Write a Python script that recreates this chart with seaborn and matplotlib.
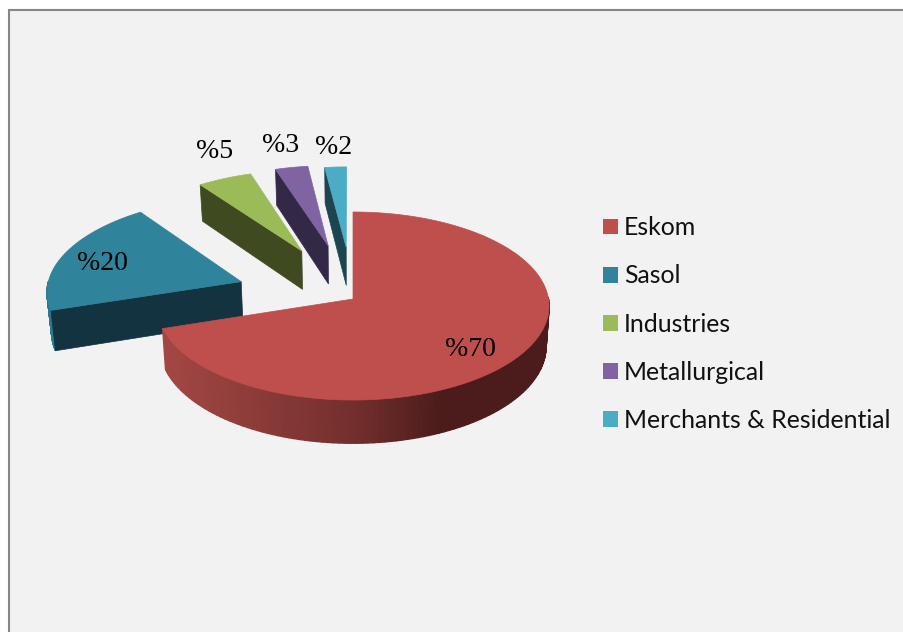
import numpy as np
import matplotlib
matplotlib.use("Agg")
import matplotlib.pyplot as plt
from matplotlib.patches import Patch, Rectangle
import seaborn as sns

# data
sources = ["Eskom", "Sasol", "Industries", "Metallurgical", "Merchants & Residential"]
shares = [70, 20, 5, 3, 2]
pull_out = [0, 0.61, 0.60, 0.61, 0.58]

# colours
top_colors = ["#bf4f4c", "#2f839b", "#9bbb59", "#8064a2", "#4bacc6"]
cut_colors = ["#4e1f1e", "#12333f", "#404a21", "#332846", "#1c4550"]
wall_colors = ["#4e1f1e", "#2b7890", "#404a21", "#332846", "#1c4550"]

# label spots in pixels
label_spots = [(470, 350), (102, 263), (215, 152), (281, 146), (334, 147)]

# projection of the pie plane to the picture
CX, CY = 353, 299
RX, RY = 195.5, 93.5
TILT = 0.0745
DEPTH = 40
BOTTOM_SHRINK = 0.985

sns.set_theme(style="white")
plt.rcParams["font.family"] = ["Lato", "DejaVu Sans"]


def project(x, y):
    s = 1 / (1 + TILT * np.asarray(y))
    return CX + RX * np.asarray(x) * s, CY - RY * np.asarray(y) * s


def project_bottom(x, y):
    s = 1 / (1 + TILT * np.asarray(y))
    px, py = project(x, y)
    return CX + (px - CX) * BOTTOM_SHRINK, py + DEPTH * s


def wall_shade(px):
    # Eskom side goes from lit on the left to dark near the right
    left = np.array([0xa3, 0x47, 0x44]) / 255
    mid = np.array([0x72, 0x2f, 0x2d]) / 255
    right = np.array([0x4b, 0x1c, 0x1b]) / 255
    return [np.interp(px, [165, 353, 440], [left[i], mid[i], right[i]]) for i in range(3)]


fig = plt.figure(figsize=(9.04, 6.32), dpi=100, facecolor="white")
ax = fig.add_axes([0, 0, 1, 1])

wedges, _ = ax.pie(shares, explode=pull_out, startangle=90, counterclock=False, colors=top_colors)
ax.set_aspect("auto")
ax.set_xlim(0, 904)
ax.set_ylim(632, 0)
ax.axis("off")

ax.add_patch(Rectangle((9, 10), 920, 650, facecolor="#f2f2f2", edgecolor="#868686", lw=1.5, zorder=0))

# smallest slice first, Eskom has to end up in front
for order, i in enumerate(range(len(wedges) - 1, -1, -1)):
    w = wedges[i]
    cx, cy = w.center
    w.remove()
    z = 2 + order
    theta = np.radians(np.linspace(w.theta1, w.theta2, 160))
    xs = cx + w.r * np.cos(theta)
    ys = cy + w.r * np.sin(theta)

    # outer wall, only the part facing the viewer
    tx, ty = project(xs, ys)
    bx, by = project_bottom(xs, ys)
    for k in range(len(theta) - 1):
        if np.sin(theta[k]) > 0 and np.sin(theta[k + 1]) > 0:
            continue
        shade = wall_shade(tx[k]) if i == 0 else wall_colors[i]
        ax.fill([tx[k], tx[k + 1], bx[k + 1], bx[k]], [ty[k], ty[k + 1], by[k + 1], by[k]],
                facecolor=shade, edgecolor=shade, lw=1.0, zorder=z)

    # cut face along the leading edge of the pulled out slices
    if pull_out[i] > 0:
        ex, ey = cx + w.r * np.cos(np.radians(w.theta2)), cy + w.r * np.sin(np.radians(w.theta2))
        t1 = project(cx, cy)
        t2 = project(ex, ey)
        b2 = project_bottom(ex, ey)
        b1 = project_bottom(cx, cy)
        ax.fill([t1[0], t2[0], b2[0], b1[0]], [t1[1], t2[1], b2[1], b1[1]],
                facecolor=cut_colors[i], edgecolor=cut_colors[i], lw=0.5, zorder=z)

    # top face
    fx, fy = project(np.r_[cx, xs], np.r_[cy, ys])
    ax.fill(fx, fy, facecolor=top_colors[i], edgecolor=top_colors[i], lw=0.5, zorder=z + 0.5)

for share, (lx, ly) in zip(shares, label_spots):
    ax.text(lx, ly, f"%{share}", ha="center", va="center", fontsize=20,
            family="Liberation Serif", color="black", zorder=20)

handles = [Patch(facecolor=c, edgecolor=c, lw=0) for c in top_colors]
ax.legend(handles, sources, loc="center left", bbox_to_anchor=(603, 324),
          bbox_transform=ax.transData, frameon=False, borderpad=0, borderaxespad=0,
          fontsize=17.9, handlelength=0.6, handleheight=0.6, handletextpad=0.25,
          labelspacing=1.01, labelcolor="#111111")

fig.savefig("out.png", dpi=100)
